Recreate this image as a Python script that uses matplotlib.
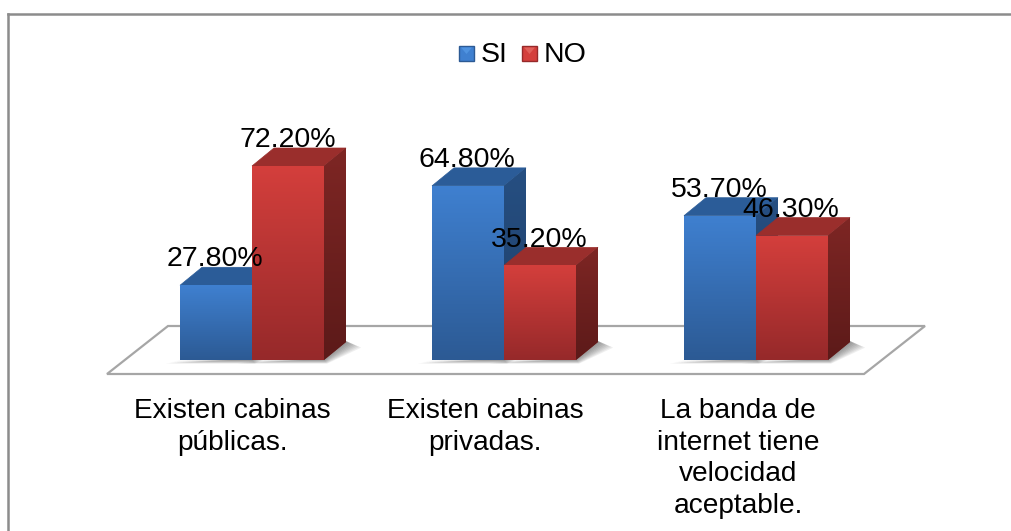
import numpy as np
import matplotlib
matplotlib.use('Agg')
import matplotlib.pyplot as plt
from matplotlib.patches import Polygon
from matplotlib.colors import LinearSegmentedColormap

categories = ['Existen cabinas\npúblicas.', 'Existen cabinas\nprivadas.', 'La banda de\ninternet tiene\nvelocidad\naceptable.']
series_names = ['SI', 'NO']
si_values = [27.8, 64.8, 53.7]
no_values = [72.2, 35.2, 46.3]

W, H = 1011, 531
PX = 2.687           # pixels per percentage point
Y0 = 360             # pixel row of value zero
plt.rcParams['font.family'] = ['Liberation Sans', 'DejaVu Sans']
fig = plt.figure(figsize=(W/100, H/100), dpi=100)
ax = fig.add_axes([0, 0, 1, 1])
ax.set_xlim(0, W)
ax.set_ylim((Y0 - H)/PX, Y0/PX)
ax.axis('off')

def py(p):  # pixel row -> value scale
    return (Y0 - p)/PX

# outer frame: left and top edges only
ax.plot([8, 8], [py(H+5), py(14)], color='#8c8c8c', lw=1.8, solid_joinstyle='miter')
ax.plot([8, W+5], [py(14), py(14)], color='#8c8c8c', lw=1.8)

# floor
ax.add_patch(Polygon([(107, py(374)), (864, py(374)), (925, py(326)), (168, py(326))],
                     closed=True, fc='white', ec='#a6a6a6', lw=1.6, zorder=1))

DX, DY = 22, 18
BW = 72
starts = [180, 432, 684]
palette = {
    'SI': dict(top='#3f80d0', bot='#2c5a94', cap='#2b5c98', side0='#264f82', side1='#1f3f68', tip='#4f93e0'),
    'NO': dict(top='#d43f3c', bot='#96292a', cap='#9a2e2c', side0='#7e2624', side1='#5c1a19', tip='#e0605a'),
}

def cmap(c):
    return LinearSegmentedColormap.from_list('g', [c[0], c[1]])

grad = np.linspace(0, 1, 128).reshape(-1, 1)

def bar3d(x, v, pal, z):
    # soft ground shadow, built from stacked translucent shapes
    for k in range(1, 9):
        ax.add_patch(Polygon([(x-2-k*1.6, py(360+k*0.45)), (x+BW+k*0.4, py(360+k*0.45)),
                              (x+BW+DX+k*1.9, py(360-DY+k*0.7)), (x+BW+DX, py(360-DY-1)), (x+BW, py(360-1))],
                             closed=True, fc='#444444', ec='none', alpha=0.085, zorder=2))
    rect = ax.bar(x, v, width=BW, bottom=0, align='edge', color=pal['top'], lw=0, zorder=z)[0]
    im = ax.imshow(grad, extent=[x, x+BW, 0, v], aspect='auto',
                   cmap=cmap((pal['top'], pal['bot'])), zorder=z+0.1)
    im.set_clip_path(rect)
    d = DY/PX
    ax.add_patch(Polygon([(x, v), (x+BW, v), (x+BW+DX, v+d), (x+DX, v+d)],
                         closed=True, fc=pal['cap'], ec=pal['cap'], lw=0.5, zorder=z))
    side = Polygon([(x+BW, 0), (x+BW+DX, d), (x+BW+DX, v+d), (x+BW, v)],
                   closed=True, fc=pal['side0'], ec='none', zorder=z)
    ax.add_patch(side)
    im2 = ax.imshow(grad, extent=[x+BW, x+BW+DX, 0, v+d], aspect='auto',
                    cmap=cmap((pal['side0'], pal['side1'])), zorder=z+0.1)
    im2.set_clip_path(side)

for i, x in enumerate(starts):
    bar3d(x, si_values[i], palette['SI'], 3 + i*3)
    bar3d(x + BW, no_values[i], palette['NO'], 4 + i*3)

ax.set_xlim(0, W)
ax.set_ylim((Y0 - H)/PX, Y0/PX)

FS = 20.5
label_x_si = [215, 467, 719]
label_x_no = [288, 539, 791]
for i in range(3):
    ax.text(label_x_si[i], si_values[i] + 9.7, f'{si_values[i]:.2f}%', ha='center', va='center',
            fontsize=FS, color='black', zorder=20)
    ax.text(label_x_no[i], no_values[i] + 9.5, f'{no_values[i]:.2f}%', ha='center', va='center',
            fontsize=FS, color='black', zorder=20)

cat_x = [232.5, 485, 738]
for cx, c in zip(cat_x, categories):
    ax.text(cx, py(398), c, ha='center', va='top', fontsize=20.2, color='black',
            linespacing=1.285, zorder=20)

# legend
for lx, name, pal in ((459, series_names[0], palette['SI']), (522, series_names[1], palette['NO'])):
    s = 15
    ax.add_patch(Polygon([(lx, py(46)), (lx+s, py(46)), (lx+s, py(61)), (lx, py(61))],
                         closed=True, fc=pal['top'], ec=pal['bot'], lw=1.0, zorder=20))
    ax.add_patch(Polygon([(lx+2, py(47.5)), (lx+s-2, py(47.5)), (lx+s/2, py(54))],
                         closed=True, fc=pal['tip'], ec='none', zorder=21))
    ax.text(lx+22, py(54.5), name, ha='left', va='center', fontsize=FS, color='black', zorder=20)

fig.savefig('out.png', dpi=100, facecolor='white')
